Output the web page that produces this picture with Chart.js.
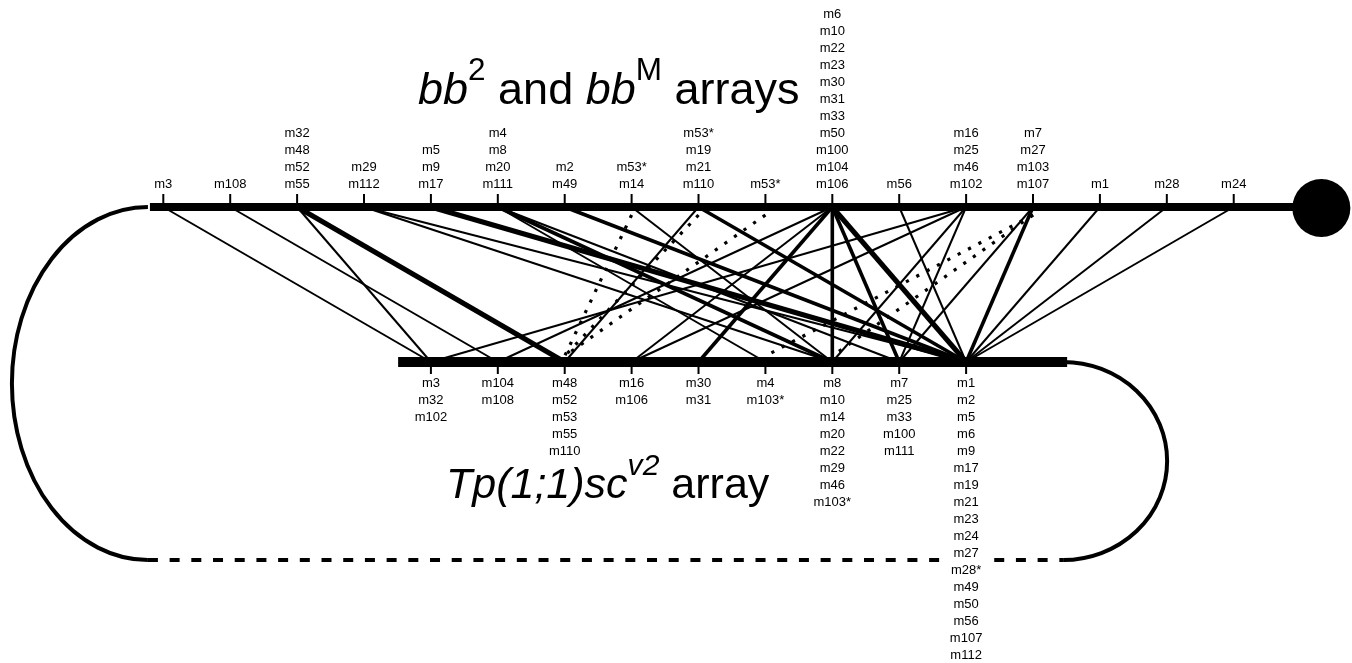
<!DOCTYPE html>
<html>
<head>
<meta charset="utf-8">
<script src="https://cdn.jsdelivr.net/npm/chart.js@4.4.0/dist/chart.umd.min.js"></script>
<style>
  html, body { margin: 0; padding: 0; background: #fff; }
  #wrap { width: 1352px; height: 663px; position: relative; }
</style>
</head>
<body>
<div id="wrap"><canvas id="grafico"></canvas></div>
<script>
// markers at each position of the bb2/bbM array (top), listed top to bottom
const topLabels = [
  ['m3'],
  ['m108'],
  ['m32', 'm48', 'm52', 'm55'],
  ['m29', 'm112'],
  ['m5', 'm9', 'm17'],
  ['m4', 'm8', 'm20', 'm111'],
  ['m2', 'm49'],
  ['m53*', 'm14'],
  ['m53*', 'm19', 'm21', 'm110'],
  ['m53*'],
  ['m6', 'm10', 'm22', 'm23', 'm30', 'm31', 'm33', 'm50', 'm100', 'm104', 'm106'],
  ['m56'],
  ['m16', 'm25', 'm46', 'm102'],
  ['m7', 'm27', 'm103', 'm107'],
  ['m1'],
  ['m28'],
  ['m24']
];

// markers at each position of the Tp(1;1)sc v2 array (bottom)
const bottomLabels = [
  ['m3', 'm32', 'm102'],
  ['m104', 'm108'],
  ['m48', 'm52', 'm53', 'm55', 'm110'],
  ['m16', 'm106'],
  ['m30', 'm31'],
  ['m4', 'm103*'],
  ['m8', 'm10', 'm14', 'm20', 'm22', 'm29', 'm46', 'm103*'],
  ['m7', 'm25', 'm33', 'm100', 'm111'],
  ['m1', 'm2', 'm5', 'm6', 'm9', 'm17', 'm19', 'm21', 'm23', 'm24', 'm27', 'm28*',
   'm49', 'm50', 'm56', 'm107', 'm112']
];

const BOTTOM_OFFSET = 4;      // first bottom position sits under the 5th top position
const TOP_Y = 207;
const BOTTOM_Y = 362;
const LOOP_Y = 560;
const TOP_BAR = [-0.2, 17.29];
const BOTTOM_BAR = [3.51, 13.51];
const LINE_W = [0, 2, 3.6, 5];

// --- build connections from the marker lists ---
const clean = s => s.replace('*', '');
function positionsOf(list, name) {
  const out = [];
  list.forEach((arr, i) => { if (arr.some(m => clean(m) === name)) out.push(i); });
  return out;
}
const allNames = new Set();
topLabels.forEach(a => a.forEach(m => allNames.add(clean(m))));

const solid = {};   // "t-b" -> count
const dotted = [];
allNames.forEach(name => {
  const ts = positionsOf(topLabels, name);
  const bs = positionsOf(bottomLabels, name);
  if (!ts.length || !bs.length) return;
  const ambiguous = ts.length > 1 || bs.length > 1;
  ts.forEach(t => bs.forEach(b => {
    if (ambiguous) dotted.push([t, b]);
    else {
      const k = t + '-' + b;
      solid[k] = (solid[k] || 0) + 1;
    }
  }));
});

const datasets = [];

// arrays (drawn on top)
datasets.push({
  data: [{ x: TOP_BAR[0], y: TOP_Y }, { x: TOP_BAR[1], y: TOP_Y }],
  showLine: true, borderColor: '#000', borderWidth: 8, pointRadius: 0,
  borderCapStyle: 'butt', order: 0
});
datasets.push({
  data: [{ x: BOTTOM_BAR[0], y: BOTTOM_Y }, { x: BOTTOM_BAR[1], y: BOTTOM_Y }],
  showLine: true, borderColor: '#000', borderWidth: 10, pointRadius: 0,
  borderCapStyle: 'butt', order: 0
});
// centromere
datasets.push({
  data: [{ x: TOP_BAR[1] + 0.02, y: TOP_Y + 1 }],
  showLine: false, pointRadius: 29, pointBackgroundColor: '#000',
  pointBorderColor: '#000', borderWidth: 0, order: 0
});

Object.entries(solid).forEach(([k, n]) => {
  const [t, b] = k.split('-').map(Number);
  datasets.push({
    data: [{ x: t, y: TOP_Y }, { x: b + BOTTOM_OFFSET, y: BOTTOM_Y }],
    showLine: true, borderColor: '#000', borderWidth: LINE_W[Math.min(n, 3)],
    pointRadius: 0, borderCapStyle: 'butt', order: 1
  });
});
dotted.forEach(([t, b]) => {
  datasets.push({
    data: [{ x: t, y: TOP_Y + 8 }, { x: b + BOTTOM_OFFSET, y: BOTTOM_Y - 6 }],
    showLine: true, borderColor: '#000', borderWidth: 3.2, borderDash: [3.2, 8.5],
    pointRadius: 0, borderCapStyle: 'butt', order: 1
  });
});

// loop connecting the two arrays
datasets.push({
  data: [{ x: TOP_BAR[0] - 0.03, y: LOOP_Y }, { x: 13.45, y: LOOP_Y }],
  showLine: true, borderColor: '#000', borderWidth: 4, borderDash: [10, 11.7],
  pointRadius: 0, borderCapStyle: 'butt', order: 2
});

// --- texts, ticks and curved ends ---
const FONT = '"Liberation Sans", Arial, Helvetica, sans-serif';

function drawRich(ctx, x, base, size, parts) {
  let cx = x;
  parts.forEach(p => {
    const s = p.sup ? size * 0.7 : size;
    ctx.font = (p.i ? 'italic ' : '') + s + 'px ' + FONT;
    ctx.textAlign = 'left';
    ctx.textBaseline = 'alphabetic';
    ctx.fillText(p.t, cx, p.sup ? base - size * 0.54 : base);
    cx += ctx.measureText(p.t).width;
  });
}

const decor = {
  id: 'decor',
  beforeDatasetsDraw(chart) {
    const { ctx, scales: { x, y } } = chart;
    ctx.save();
    ctx.strokeStyle = '#000';
    ctx.lineWidth = 4;
    // left curve
    const lx = x.getPixelForValue(TOP_BAR[0] - 0.03);
    const ty = y.getPixelForValue(TOP_Y), ly = y.getPixelForValue(LOOP_Y);
    ctx.beginPath();
    ctx.ellipse(lx, (ty + ly) / 2, 136, (ly - ty) / 2, 0, -Math.PI / 2, Math.PI / 2, true);
    ctx.stroke();
    // right curve
    const rx = x.getPixelForValue(13.45);
    const by = y.getPixelForValue(BOTTOM_Y);
    ctx.beginPath();
    ctx.ellipse(rx, (by + ly) / 2, 104, (ly - by) / 2, 0, -Math.PI / 2, Math.PI / 2, false);
    ctx.stroke();
    ctx.restore();
  },
  afterDatasetsDraw(chart) {
    const { ctx, scales: { x, y } } = chart;
    ctx.save();
    ctx.fillStyle = '#000';
    ctx.strokeStyle = '#000';
    ctx.lineWidth = 2;
    const ty = y.getPixelForValue(TOP_Y);
    const by = y.getPixelForValue(BOTTOM_Y);

    ctx.font = '13px ' + FONT;
    ctx.textAlign = 'center';
    ctx.textBaseline = 'middle';
    topLabels.forEach((arr, i) => {
      const px = x.getPixelForValue(i);
      ctx.beginPath();
      ctx.moveTo(px, ty - 13); ctx.lineTo(px, ty - 4);
      ctx.stroke();
      arr.forEach((m, j) => {
        ctx.fillText(m, px, ty - 23 - (arr.length - 1 - j) * 17);
      });
    });
    bottomLabels.forEach((arr, i) => {
      const px = x.getPixelForValue(i + BOTTOM_OFFSET);
      ctx.beginPath();
      ctx.moveTo(px, by + 5); ctx.lineTo(px, by + 12);
      ctx.stroke();
      // white box behind the label column (hides the loop line)
      ctx.fillStyle = '#fff';
      arr.forEach((m, j) => {
        ctx.fillRect(px - 26, by + 13 + j * 17, 52, 17);
      });
      ctx.fillStyle = '#000';
      arr.forEach((m, j) => {
        ctx.fillText(m, px, by + 21 + j * 17);
      });
    });

    drawRich(ctx, 418, 104, 45, [
      { t: 'bb', i: 1 }, { t: '2', sup: 1 }, { t: ' and ' },
      { t: 'bb', i: 1 }, { t: 'M', sup: 1 }, { t: ' arrays' }
    ]);
    drawRich(ctx, 446, 498, 43, [
      { t: 'Tp(1;1)sc', i: 1 }, { t: 'v2', sup: 1, i: 1 }, { t: ' array' }
    ]);
    ctx.restore();
  }
};

new Chart(document.getElementById('grafico'), {
  type: 'scatter',
  data: { datasets },
  options: {
    responsive: true,
    maintainAspectRatio: false,
    animation: false,
    events: [],
    layout: { padding: 0, autoPadding: false },
    scales: {
      x: { type: 'linear', min: -2.441, max: 17.768, display: false },
      y: { type: 'linear', min: 0, max: 663, reverse: true, display: false }
    },
    plugins: { legend: { display: false }, tooltip: { enabled: false } },
    elements: { line: { tension: 0 } }
  },
  plugins: [decor]
});
</script>
</body>
</html>
